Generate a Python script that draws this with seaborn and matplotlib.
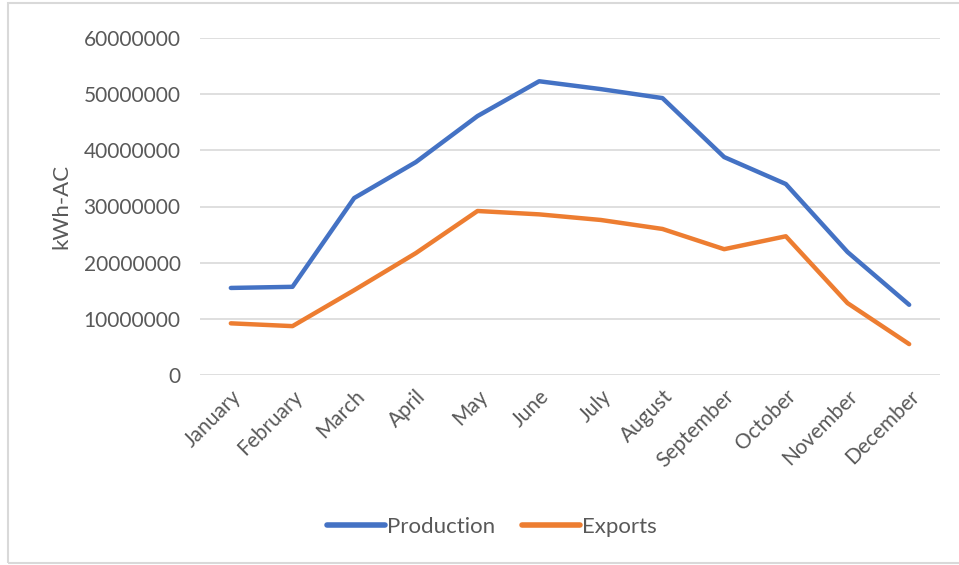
import matplotlib
matplotlib.use("Agg")
import matplotlib.pyplot as plt
import seaborn as sns
import pandas as pd
from matplotlib.patches import Rectangle
from matplotlib.lines import Line2D

months = ["January", "February", "March", "April", "May", "June", "July",
          "August", "September", "October", "November", "December"]
production = [15500000, 15700000, 31500000, 37900000, 46100000, 52300000,
              50900000, 49300000, 38800000, 34000000, 21900000, 12500000]
exports = [9200000, 8700000, 15100000, 21700000, 29200000, 28600000,
           27600000, 26000000, 22400000, 24700000, 12800000, 5500000]
yticks = [0, 10000000, 20000000, 30000000, 40000000, 50000000, 60000000]

df = pd.DataFrame({
    "Month": months * 2,
    "Value": production + exports,
    "Series": ["Production"] * 12 + ["Exports"] * 12,
})
df["x"] = list(range(12)) * 2

sns.set_theme(style="white")
plt.rcParams["font.family"] = ["Lato", "DejaVu Sans"]

grey = "#595959"
fig = plt.figure(figsize=(9.59, 5.65), dpi=100)
ax = fig.add_axes([200 / 959, 1 - 375 / 565, 740 / 959, 337 / 565])

sns.lineplot(data=df, x="x", y="Value", hue="Series", ax=ax,
             palette={"Production": "#4472C4", "Exports": "#ED7D31"},
             linewidth=3.2, legend=False)

ax.set_xlim(-0.5, 11.5)
ax.set_ylim(0, 60000000)
ax.set_yticks(yticks)
ax.set_yticklabels([str(v) for v in yticks], fontsize=15, color=grey)
ax.set_xticks(range(12))
ax.set_xticklabels(months, rotation=45, ha="right", rotation_mode="anchor",
                   fontsize=15, color=grey)
ax.tick_params(axis="y", pad=14, length=0)
ax.tick_params(axis="x", pad=8, length=0)
ax.grid(axis="y", color="#d9d9d9", linewidth=1.2)
ax.set_axisbelow(True)
for s in ax.spines.values():
    s.set_visible(False)
ax.set_xlabel("")
ax.set_ylabel("kWh-AC", fontsize=16, color=grey)
ax.yaxis.set_label_coords((71 - 200) / 740, 0.5)

handles = [Line2D([], [], color="#4472C4", linewidth=4, solid_capstyle="round"),
           Line2D([], [], color="#ED7D31", linewidth=4, solid_capstyle="round")]
fig.legend(handles, ["Production", "Exports"], loc="center",
           bbox_to_anchor=(492 / 959, 1 - 527 / 565), ncol=2, frameon=False,
           fontsize=16, labelcolor=grey, handlelength=2.6, handletextpad=0.1,
           columnspacing=1.2)

fig.patches.append(Rectangle((8 / 959, 0.004), 1.1, 1 - 3 / 565 - 0.004,
                             transform=fig.transFigure, fill=False,
                             edgecolor="#d9d9d9", linewidth=1.5))

fig.savefig("out.png", dpi=100)
